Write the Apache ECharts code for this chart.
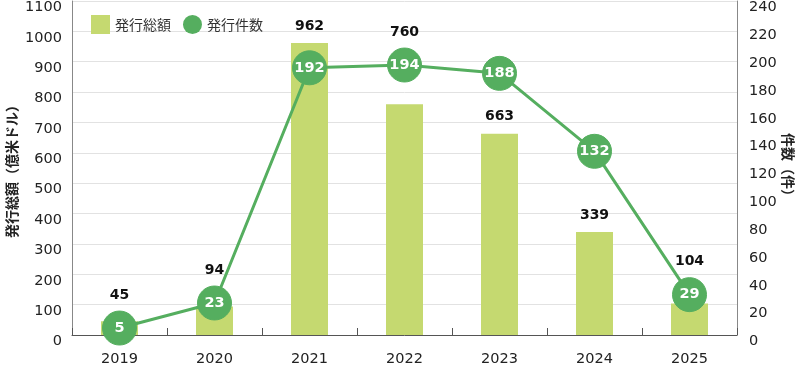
<!DOCTYPE html>
<html><head><meta charset="utf-8">
<script src="https://cdn.jsdelivr.net/npm/echarts@6/dist/echarts.min.js"></script>
<style>html,body{margin:0;padding:0;background:#fff}#c{width:800px;height:371px}</style>
</head><body><div id="c"></div>
<script>
const years = ['2019','2020','2021','2022','2023','2024','2025'];
const amounts = [45, 94, 962, 760, 663, 339, 104];
const counts = [5, 23, 192, 194, 188, 132, 29];
const leftTicks = [0,100,200,300,400,500,600,700,800,900,1000,1100];
const rightTicks = [0,20,40,60,80,100,120,140,160,180,200,220,240];

const NUM = '"DejaVu Sans","Noto Sans CJK JP",sans-serif';
const JP = '"Noto Sans CJK JP",sans-serif';
const SYM = 34;
const chart = echarts.init(document.getElementById('c'), null, {renderer:'canvas'});
const base = {
  animation:false,
  textStyle:{fontFamily:NUM},
  legend:{
    left:86, top:10, itemGap:12, itemWidth:19, itemHeight:19,
    textStyle:{fontSize:14, color:'#333', fontFamily:JP},
    data:[{name:'発行総額', icon:'rect'},{name:'発行件数', icon:'circle'}]
  },
  grid:{left:72, right:63, top:1, bottom:36, containLabel:false, outerBoundsMode:'none'},
  xAxis:{
    type:'category', data:years,
    axisLine:{lineStyle:{color:'#555', width:1}},
    axisTick:{show:true, inside:true, length:7, lineStyle:{color:'#555'}},
    axisLabel:{fontSize:14.5, color:'#222', margin:17, fontFamily:NUM}
  },
  yAxis:[{
    type:'value', min:0, max:1100, interval:100,
    name:'発行総額（億米ドル）', nameLocation:'middle', nameRotate:90, nameGap:53, nameMoveOverlap:false,
    nameTextStyle:{fontSize:14, fontWeight:'bold', color:'#222', fontFamily:JP},
    axisLine:{show:true, lineStyle:{color:'#888'}},
    axisTick:{show:false},
    axisLabel:{fontSize:14.5, color:'#222', margin:10, fontFamily:NUM, verticalAlign:'top', lineHeight:13,
      formatter:v=>String(v)},
    splitLine:{lineStyle:{color:'#e2e2e2'}}
  },{
    type:'value', min:0, max:240, interval:20,
    name:'件数（件）', nameLocation:'middle', nameRotate:-90, nameGap:44, nameMoveOverlap:false,
    nameTextStyle:{fontSize:14, fontWeight:'bold', color:'#222', fontFamily:JP},
    axisLine:{show:true, lineStyle:{color:'#888'}},
    axisTick:{show:false},
    axisLabel:{fontSize:14.5, color:'#222', margin:12, fontFamily:NUM, verticalAlign:'top', lineHeight:13,
      formatter:v=>String(v)},
    splitLine:{show:false}
  }],
  series:[{
    name:'発行総額', type:'bar', data:amounts, barWidth:37,
    itemStyle:{color:'#c5d970'},
    label:{show:true, position:'top', distance:10, fontSize:14, fontWeight:'bold', color:'#111', fontFamily:NUM}
  },{
    name:'発行件数', type:'line', yAxisIndex:1, data:counts,
    symbol:'circle', symbolSize:SYM,
    lineStyle:{color:'#55ae5f', width:3},
    itemStyle:{color:'#55ae5f', borderColor:'#55ae5f'},
    label:{show:true, position:'inside', fontSize:14.5, fontWeight:'bold', color:'#fff', fontFamily:NUM},
    z:5
  }]
};
chart.setOption(base);
// lift bar value labels above the circle when the circle would cover them
const barData = amounts.map((v,i)=>{
  const barTop = chart.convertToPixel({yAxisIndex:0}, v);
  const cy = chart.convertToPixel({yAxisIndex:1}, counts[i]);
  const cTop = cy - SYM/2, cBot = cy + SYM/2;
  const labelBot = barTop - 10, labelTop = labelBot - 17;
  if (cBot > labelTop && cTop < barTop + 4) {
    const dy = (cTop - 9) - labelBot;
    return {value:v, label:{offset:[0, Math.min(0, dy)]}};
  }
  return v;
});
chart.setOption({series:[{name:'発行総額', data:barData}]});
</script></body></html>
